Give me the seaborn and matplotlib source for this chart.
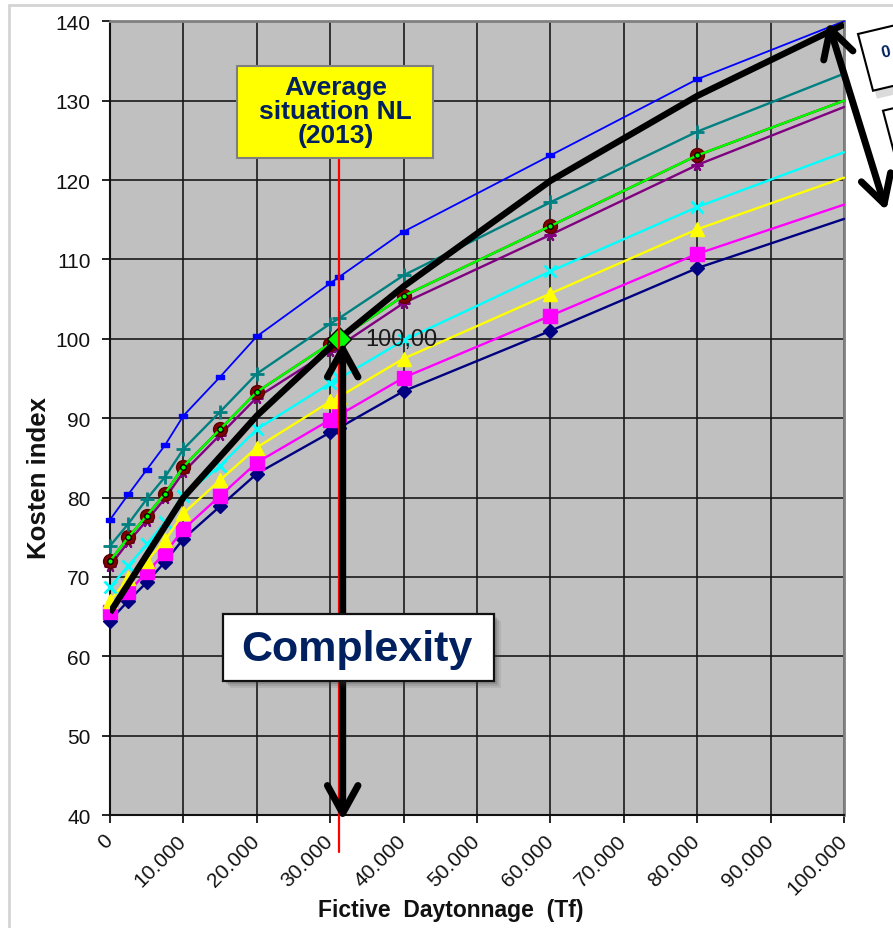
import numpy as np
import pandas as pd
import matplotlib
matplotlib.use("Agg")
import matplotlib.pyplot as plt
import seaborn as sns
from matplotlib.patches import Rectangle, Polygon, FancyArrowPatch, ArrowStyle
from matplotlib.lines import Line2D
from matplotlib.ticker import FuncFormatter, MultipleLocator

# ---------------- data ----------------
x_tonnage = [0, 2500, 5000, 7500, 10000, 15000, 20000, 30000, 31240, 40000, 60000, 80000, 100000]
blue_vals = [77.2, 80.4, 83.5, 86.6, 90.3, 95.2, 100.3, 107.0, 107.8, 113.5, 123.1, 132.7, 140.0]
teal_vals = [73.9, 76.7, 79.8, 82.6, 86.1, 90.8, 95.6, 101.9, 102.6, 108.0, 117.2, 126.1, 133.4]
maroon_vals = [72.0, 75.0, 77.7, 80.5, 83.9, 88.6, 93.3, 99.4, 100.0, 105.4, 114.2, 123.1, 130.0]
green_vals = [72.0, 75.0, 77.7, 80.5, 83.9, 88.6, 93.3, 99.4, 100.0, 105.4, 114.2, 123.1, 130.0]
purple_vals = [71.4, 74.4, 77.1, 79.9, 83.2, 87.9, 92.6, 98.5, 99.1, 104.5, 113.1, 121.9, 129.2]
cyan_vals = [68.7, 71.4, 74.1, 76.9, 80.2, 84.0, 88.6, 94.4, 95.0, 99.8, 108.5, 116.6, 123.5]
yellow_vals = [67.0, 69.8, 72.0, 74.6, 78.0, 82.2, 86.3, 92.1, 92.7, 97.5, 105.7, 113.8, 120.3]
magenta_vals = [65.6, 68.1, 70.6, 73.0, 76.0, 80.2, 84.4, 89.8, 90.4, 95.1, 102.9, 110.7, 116.9]
navy_vals = [64.5, 67.0, 69.3, 71.9, 74.8, 78.9, 83.0, 88.2, 88.8, 93.4, 101.0, 108.9, 115.1]

avg_x = [0, 10000, 20000, 31240, 40000, 60000, 80000, 100000]
avg_vals = [65.5, 80.0, 90.3, 100.0, 106.6, 119.9, 130.6, 139.6]

ref_x = [31240]
ref_y = [100.0]
ref_label = "100,00"

# ---------------- style ----------------
sns.set_style("white")
plt.rcParams['font.family'] = ['Liberation Sans', 'DejaVu Sans']
plt.rcParams['text.color'] = '#111111'

W, H = 893, 929
fig = plt.figure(figsize=(W / 100, H / 100), dpi=100)
fig.patch.set_facecolor('white')

def fp(x, y):
    return (x / W, 1 - y / H)

ax = fig.add_axes([110 / W, 1 - 816 / H, (844 - 110) / W, (816 - 22.3) / H])
ax.set_facecolor('#C0C0C0')

mk_every = list(range(len(x_tonnage) - 1))
dash_marker = [(-1, -0.45), (1, -0.45), (1, 0.45), (-1, 0.45), (-1, -0.45)]

series = [
    (navy_vals, '#000080', dict(marker='D', markersize=7.5, mfc='#000080', mec='#000080', mew=1), 1.7),
    (magenta_vals, '#FF00FF', dict(marker='s', markersize=9.5, mfc='#FF00FF', mec='#FF00FF', mew=1), 1.7),
    (yellow_vals, '#FFFF00', dict(marker='^', markersize=10, mfc='#FFFF00', mec='#FFFF00', mew=1), 1.7),
    (cyan_vals, '#00FFFF', dict(marker='x', markersize=8.5, mfc='#00FFFF', mec='#00FFFF', mew=2), 1.7),
    (purple_vals, '#800080', dict(marker=(6, 2, 90), markersize=8.5, mfc='#800080', mec='#800080', mew=1.5), 1.7),
    (maroon_vals, '#800000', dict(marker='o', markersize=10, mfc='#800000', mec='#5a0000', mew=1), 1.7),
    (teal_vals, '#008080', dict(marker='+', markersize=10, mfc='#008080', mec='#008080', mew=2), 1.7),
    (blue_vals, '#0000FF', dict(marker=dash_marker, markersize=6, mfc='#0000FF', mec='#0000FF', mew=1), 1.3),
    (green_vals, '#00FF00', dict(marker='o', markersize=4, mfc='#00FF00', mec='#000000', mew=1), 1.7),
]

for i, (vals, col, mk, lw) in enumerate(series):
    d = pd.DataFrame({'x': x_tonnage, 'y': vals})
    sns.lineplot(data=d, x='x', y='y', ax=ax, color=col, lw=lw, markevery=mk_every,
                 zorder=3 + i * 0.1, clip_on=False, **mk)

# thick black average curve
dav = pd.DataFrame({'x': avg_x, 'y': avg_vals})
sns.lineplot(data=dav, x='x', y='y', ax=ax, color='black', lw=4.6, zorder=6,
             solid_joinstyle='round', solid_capstyle='butt')

# reference point (green diamond)
sns.scatterplot(x=ref_x, y=ref_y, ax=ax, marker='D', s=150, color='#00FF00',
                edgecolor='black', linewidth=1, zorder=9)
ax.text(ref_x[0] + 3600, ref_y[0], ref_label, fontsize=17, va='center', ha='left',
        color='#1a1a1a', zorder=9)

# axes
ax.set_xlim(0, 100000)
ax.set_ylim(40, 140)
ax.xaxis.set_major_locator(MultipleLocator(10000))
ax.yaxis.set_major_locator(MultipleLocator(10))
ax.xaxis.set_major_formatter(FuncFormatter(lambda v, p: f"{int(round(v)):,}".replace(",", ".")))
ax.grid(True, color='#1a1a1a', lw=1.2)
ax.set_axisbelow(True)
ax.tick_params(axis='both', direction='out', length=6, width=1.2, color='black',
               labelsize=15, labelcolor='#111111')
ax.tick_params(axis='y', pad=8, left=True)
ax.tick_params(axis='x', pad=10, bottom=True)
plt.setp(ax.get_xticklabels(), rotation=45, ha='right', va='center', rotation_mode='anchor')
for s in ['left', 'bottom']:
    ax.spines[s].set_color('#111111')
    ax.spines[s].set_linewidth(1.5)
for s in ['top', 'right']:
    ax.spines[s].set_color('#808080')
    ax.spines[s].set_linewidth(2)
ax.set_xlabel('')
ax.set_ylabel('')

fig.text(*fp(451, 911), 'Fictive  Daytonnage  (Tf)', fontsize=16.5, fontweight='bold',
         ha='center', va='center', color='#111111')
fig.text(*fp(39, 478), 'Kosten index', fontsize=18.5, fontweight='bold', rotation=90,
         ha='center', va='center', color='#111111')

# outer light frame
fig.add_artist(Line2D([fp(9, 6)[0], fp(893, 6)[0]], [fp(9, 6)[1], fp(893, 6)[1]],
                      transform=fig.transFigure, color='#D4D4D4', lw=2))
fig.add_artist(Line2D([fp(9, 6)[0], fp(9, 929)[0]], [fp(9, 6)[1], fp(9, 929)[1]],
                      transform=fig.transFigure, color='#D4D4D4', lw=2))

navy_txt = '#002060'

# red vertical line
fig.add_artist(Line2D([fp(338.5, 159)[0]] * 2, [fp(338.5, 159)[1], fp(338.5, 853)[1]],
                      transform=fig.transFigure, color='#FF0000', lw=1.6, zorder=7))

# yellow box
x0, y0 = fp(237.3, 159)
fig.add_artist(Rectangle((x0, y0), (433.3 - 237.3) / W, (159 - 66.7) / H, transform=fig.transFigure,
                         facecolor='#FFFF00', edgecolor='#7f7f7f', lw=1.5, zorder=8))
fig.text(*fp(335.5, 112), 'Average\nsituation NL\n(2013)', fontsize=19, fontweight='bold',
         ha='center', va='center', color=navy_txt, linespacing=1.02, zorder=9)

# vertical double arrow
arst = ArrowStyle('<->', head_length=20, head_width=11)
fig.add_artist(FancyArrowPatch(fp(342.7, 343), fp(342.7, 821.5), transform=fig.transFigure,
                               arrowstyle=arst, mutation_scale=1, lw=5, color='black',
                               shrinkA=0, shrinkB=0, capstyle='round', joinstyle='round', zorder=8))

# Complexity box with shadow
for k, a in [(7, 0.10), (5, 0.15), (3, 0.2)]:
    sx, sy = fp(222.7 + k, 681.7 + k)
    fig.add_artist(Rectangle((sx, sy), (494.3 - 222.7) / W, (681.7 - 615) / H, transform=fig.transFigure,
                             facecolor='#404040', edgecolor='none', alpha=a, zorder=9))
bx, by = fp(222.7, 681.7)
fig.add_artist(Rectangle((bx, by), (494.3 - 222.7) / W, (681.7 - 615) / H, transform=fig.transFigure,
                         facecolor='white', edgecolor='#111111', lw=1.6, zorder=10))
fig.text(*fp(357, 650), 'Complexity', fontsize=31, fontweight='bold', ha='center', va='center',
         color=navy_txt, zorder=11)

# right double arrow
fig.add_artist(FancyArrowPatch(fp(828, 23), fp(886.3, 211.7), transform=fig.transFigure,
                               arrowstyle=arst, mutation_scale=1, lw=5, color='black',
                               shrinkA=0, shrinkB=0, capstyle='round', joinstyle='round', zorder=8))

# cut-off boxes on the right
def poly(pts, **kw):
    fig.add_artist(Polygon([fp(*p) for p in pts], closed=True, transform=fig.transFigure, **kw))

poly([(862, 43), (877, 99.7), (977, 76), (962, 19.3)], facecolor='#9a9a9a', edgecolor='none', alpha=0.35, zorder=7)
poly([(858, 35), (873, 91.7), (973, 68), (958, 11.3)], facecolor='white', edgecolor='black', lw=1.5, zorder=9)
fig.text(*fp(886, 53), '0', fontsize=12, fontweight='bold', ha='center', va='center',
         color=navy_txt, rotation=13, zorder=10)
poly([(883, 111.7), (898, 168.4), (998, 145), (983, 88)], facecolor='white', edgecolor='black', lw=1.5, zorder=9)

fig.savefig('out.png', dpi=100, facecolor='white')
